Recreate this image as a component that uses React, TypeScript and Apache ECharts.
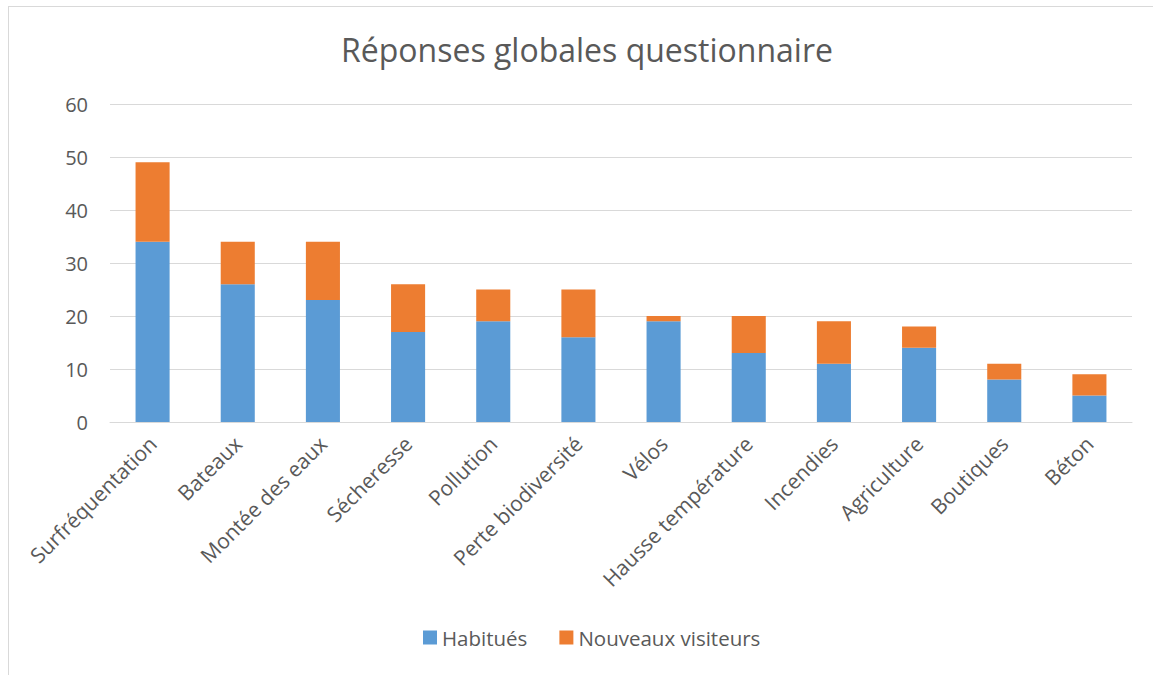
import React, { useEffect, useRef } from "react";
import * as echarts from "echarts";

const categories = [
  "Surfréquentation",
  "Bateaux",
  "Montée des eaux",
  "Sécheresse",
  "Pollution",
  "Perte biodiversité",
  "Vélos",
  "Hausse température",
  "Incendies",
  "Agriculture",
  "Boutiques",
  "Béton",
];
const habitues = [34, 26, 23, 17, 19, 16, 19, 13, 11, 14, 8, 5];
const nouveaux = [15, 8, 11, 9, 6, 9, 1, 7, 8, 4, 3, 4];

const FONT = "'Open Sans', 'Noto Sans', sans-serif";

export default function App() {
  const ref = useRef<HTMLDivElement>(null);
  useEffect(() => {
    if (!ref.current) return;
    const chart = echarts.init(ref.current, null, { renderer: "svg" });
    chart.setOption({
      animation: false,
      backgroundColor: "#ffffff",
      textStyle: { fontFamily: FONT },
      title: {
        text: "Réponses globales questionnaire",
        left: 336,
        top: 28,
        textStyle: { fontFamily: FONT, fontSize: 32, fontWeight: "normal", color: "#595959" },
      },
      legend: {
        bottom: 22,
        left: 418,
        itemWidth: 14,
        itemHeight: 14,
        itemGap: 32,
        icon: "rect",
        textStyle: { fontFamily: FONT, fontSize: 20.5, color: "#595959" },
        data: ["Habitués", "Nouveaux visiteurs"],
      },
      graphic: [
        { type: "line", shape: { x1: 8.5, y1: 6, x2: 8.5, y2: 675 }, style: { stroke: "#d9d9d9", lineWidth: 1 } },
        { type: "line", shape: { x1: 8, y1: 6.5, x2: 1153, y2: 6.5 }, style: { stroke: "#d9d9d9", lineWidth: 1 } },
      ],
      grid: { left: 110, right: 21, top: 104, bottom: 253, containLabel: false },
      xAxis: {
        type: "category",
        data: categories,
        axisLine: { lineStyle: { color: "#d9d9d9", width: 1 } },
        axisTick: { show: false },
        axisLabel: {
          rotate: 45,
          interval: 0,
          fontFamily: FONT,
          fontSize: 21,
          color: "#595959",
          margin: 18,
        },
      },
      yAxis: {
        type: "value",
        min: 0,
        max: 60,
        interval: 10,
        axisLine: { show: false },
        axisTick: { show: false },
        splitLine: { lineStyle: { color: "#d9d9d9", width: 1 } },
        axisLabel: { fontFamily: FONT, fontSize: 20, color: "#595959", margin: 22 },
      },
      series: [
        {
          name: "Habitués",
          type: "bar",
          stack: "total",
          barWidth: "40%",
          data: habitues,
          itemStyle: { color: "#5B9BD5" },
        },
        {
          name: "Nouveaux visiteurs",
          type: "bar",
          stack: "total",
          barWidth: "40%",
          data: nouveaux,
          itemStyle: { color: "#ED7D31" },
        },
      ],
    });
    return () => chart.dispose();
  }, []);
  return (
    <div
      ref={ref}
      style={{ position: "absolute", left: 0, top: 0, width: 1153, height: 675 }}
    />
  );
}
